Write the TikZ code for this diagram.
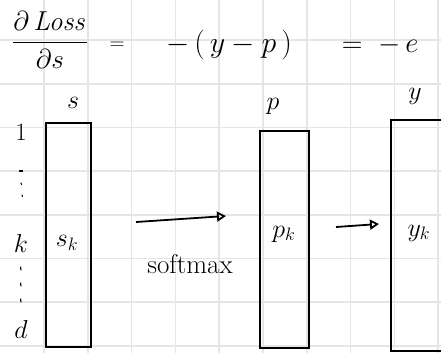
\documentclass[tikz,border=0pt]{standalone}
\usetikzlibrary{arrows.meta}
\begin{document}
\begin{tikzpicture}[x=1pt,y=-1pt,
  gridline/.style={draw=black!10,line width=1.6pt},
  box/.style={draw=black,line width=1.8pt,inner sep=0pt},
  lbl/.style={inner sep=0pt,font=\huge},
  big/.style={inner sep=0pt,font=\Huge},
  tick/.style={line width=1.1pt,line cap=round},
  arr/.style={line width=1.8pt,-{Triangle[open,length=9pt,width=10pt,line width=1.8pt]}}]
\useasboundingbox (0,0) rectangle (441,353);
\fill[white] (0,0) rectangle (441,353);
% grid
\foreach \i in {0,...,9} \draw[gridline] ({44+43.8*\i},0) -- ({44+43.8*\i},353);
\foreach \j in {0,...,7} \draw[gridline] (0,{40+43.7*\j}) -- (441,{40+43.7*\j});
% equation
\node[big] (frac) at (50,40) {\scalebox{1.1}{$\displaystyle\frac{\partial\,\mathit{Loss}}{\partial s}$}};
\node[lbl] (eq1) at (117,46) {$=$};
\node[big] (ymp) at (229,45) {\scalebox{1.2}{$-\,(\,y-p\,)$}};
\node[big] (eqe) at (380,45) {\scalebox{1.15}{$=\;-\,e$}};
% column labels
\node[lbl] (ls) at (73,103) {\scalebox{1.25}{$s$}};
\node[lbl] (lp) at (273,106) {\scalebox{1.25}{$p$}};
\node[lbl] (ly) at (415,96) {\scalebox{1.25}{$y$}};
% row labels
\node[lbl] (r1) at (21,132) {\scalebox{1.2}{$1$}};
\node[lbl] (rk) at (21,243) {\scalebox{1.25}{$k$}};
\node[lbl] (rd) at (21,329) {\scalebox{1.25}{$d$}};
\draw[tick] (19.5,171) -- (22.5,171);
\draw[tick] (21,183) -- (21.5,184.5);
\draw[tick] (22,195) -- (22.5,196.5);
\draw[tick] (20.5,267) -- (21,270);
\draw[tick] (20.5,283) -- (21,286);
\draw[tick] (20.5,299) -- (21,302);
% boxes
\node[box,minimum width=45pt,minimum height=224pt] (sbox) at (68.5,235) {};
\node[box,minimum width=49pt,minimum height=217pt] (pbox) at (284.5,239.5) {};
\node[box,minimum width=60pt,minimum height=231pt] (ybox) at (421,235.5) {};
\node[lbl] (sk) at (67,243) {\scalebox{1.25}{$s_k$}};
\node[lbl] (pk) at (284,234) {\scalebox{1.25}{$p_k$}};
\node[lbl] (yk) at (419,233) {\scalebox{1.25}{$y_k$}};
% arrows
\coordinate (a1s) at (136,222);
\coordinate (a1e) at (226,216);
\draw[arr] (a1s) -- (a1e);
\node[lbl] (soft) at (190,264) {\scalebox{1.3}{softmax}};
\coordinate (a2s) at (336,227);
\coordinate (a2e) at (379,224);
\draw[arr] (a2s) -- (a2e);
\end{tikzpicture}
\end{document}
